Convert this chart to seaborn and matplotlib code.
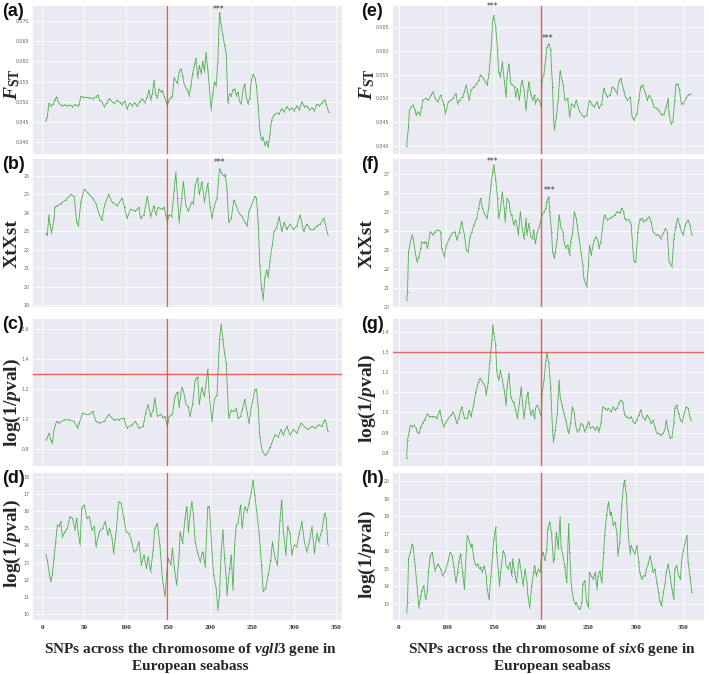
import numpy as np
import pandas as pd
import matplotlib
matplotlib.use('Agg')
import matplotlib.pyplot as plt
import seaborn as sns

# ── DATOS ────────────────────────────────────────────────────────────────────
# vgll3 — FST
a_snp = [4,6,8,10,13,15,17,19,21,24, 27,30,33,36,39,42,44,46,48,52,
         56,60,64,66,68,71,74,77,80,83, 86,89,92,95,98,101,104,107,110,113,
         116,119,122,125,127,129,131,133,135,137, 139,141,143,145,147,149,151,153,155,157,
         159,161,163,165,167,169,171,173,175,177, 179,181,183,185,187,189,191,193,195,197,
         199,201,203,205,207,209,211,213,215,217, 219,221,223,225,227,229,231,233,235,237,
         239,241,243,245,247,249,251,253,255,257, 259,261,263,265,267,269,271,273,276,279,
         282,285,288,291,294,297,300,303,306,309, 312,315,318,321,324,327,330,333,336,338,
         341]
a_val = [0.0453,0.0462,0.0497,0.0490,0.0494,0.0505,0.0512,0.0500,0.0494,0.0490,
         0.0493,0.0489,0.0492,0.0488,0.0493,0.0490,0.0494,0.0514,0.0512,0.0511,
         0.0510,0.0508,0.0512,0.0517,0.0505,0.0500,0.0488,0.0498,0.0508,0.0500,
         0.0496,0.0504,0.0499,0.0493,0.0502,0.0482,0.0497,0.0490,0.0498,0.0489,
         0.0500,0.0508,0.0498,0.0512,0.0530,0.0505,0.0520,0.0553,0.0518,0.0510,
         0.0532,0.0525,0.0528,0.0515,0.0502,0.0490,0.0505,0.0510,0.0515,0.0560,
         0.0552,0.0545,0.0575,0.0582,0.0565,0.0543,0.0535,0.0528,0.0515,0.0540,
         0.0570,0.0590,0.0608,0.0560,0.0590,0.0570,0.0600,0.0575,0.0622,0.0580,
         0.0535,0.0480,0.0520,0.0550,0.0540,0.0600,0.0721,0.0690,0.0665,0.0640,
         0.0620,0.0497,0.0520,0.0515,0.0530,0.0532,0.0515,0.0525,0.0500,0.0495,
         0.0530,0.0545,0.0510,0.0495,0.0510,0.0555,0.0568,0.0560,0.0540,0.0490,
         0.0430,0.0405,0.0412,0.0392,0.0402,0.0388,0.0420,0.0455,0.0468,0.0472,
         0.0470,0.0483,0.0475,0.0488,0.0480,0.0485,0.0478,0.0490,0.0480,0.0500,
         0.0488,0.0490,0.0480,0.0485,0.0478,0.0495,0.0490,0.0497,0.0505,0.0495,
         0.0474]

# vgll3 — XtXst
b_snp = [4,6,8,9,11,14,15,18,22,28, 34,38,41,43,46,50,54,60,64,68,
         71,74,79,83,89,95,98,101,105,111, 115,117,121,125,129,133,135,138,142,145,
         147,149,151,154,157,159,161,163,166,168, 171,174,178,180,182,185,187,190,193,197,
         200,202,205,208,211,213,216,218,220,222, 225,228,231,234,238,241,244,246,249,253,
         255,257,259,261,263,265,267,269,271,274, 276,279,282,285,288,291,295,299,303,307,
         311,315,319,323,327,331,335,337,340]
b_val = [22.9,22.8,23.9,23.4,22.9,23.7,24.3,24.4,24.5,24.7, 25.0,24.9,23.5,23.3,24.6,25.3,25.1,24.8,24.5,23.9,
         23.6,24.4,25.0,24.6,24.4,24.8,24.3,23.7,24.2,24.1, 24.3,23.7,23.9,24.9,23.8,24.4,23.9,24.3,24.2,24.3,
         23.9,23.5,23.9,23.8,25.2,26.2,24.8,23.5,24.8,25.7, 24.4,24.1,24.6,24.5,25.5,25.9,25.0,25.7,24.6,25.6,
         24.3,23.7,24.4,24.8,26.4,26.2,26.0,26.1,25.2,23.5, 23.7,24.7,24.4,24.0,23.8,23.5,23.3,24.1,24.4,24.9,
         24.8,23.5,21.2,19.9,19.3,20.5,20.9,20.5,21.4,22.3, 23.0,23.2,23.8,23.0,23.5,23.1,23.4,23.1,23.3,23.9,
         23.0,23.4,23.1,23.1,23.3,23.4,23.7,23.4,22.8]

# vgll3 — log(1/pval) FST
c_snp = [4,6,8,10,12,14,17,20,26,32, 38,42,44,48,52,56,60,64,68,74,
         79,85,91,97,101,107,111,115,120,123, 126,129,132,134,137,141,144,146,149,151,
         155,158,161,163,166,168,171,174,176,179, 182,185,187,190,193,197,199,202,205,208,
         211,213,215,217,219,222,225,228,231,233, 236,238,241,244,246,249,253,255,257,259,
         262,265,268,271,274,277,281,284,287,291, 295,299,303,308,312,316,321,325,329,333,
         336,338,340]
c_val = [0.862,0.873,0.906,0.862,0.84,0.93,0.984,0.973,0.995,0.995, 0.984,0.94,0.973,1.04,1.03,1.03,1.05,0.984,0.973,0.984,
         1.03,0.995,0.995,1.006,0.94,0.962,0.984,0.94,0.95,1.04, 1.095,1.017,1.06,1.14,1.017,1.03,1.006,1.017,0.95,1.017,
         1.03,1.15,1.18,1.08,1.21,1.19,1.1,1.08,1.017,1.1, 1.26,1.28,1.1,1.21,1.15,1.33,1.15,0.984,1.13,1.16,
         1.53,1.63,1.53,1.44,1.37,1.006,1.06,1.05,1.07,1.006, 1.017,1.06,1.13,1.04,0.973,1.08,1.195,1.2,1.08,0.88,
         0.785,0.76,0.77,0.81,0.85,0.895,0.88,0.93,0.895,0.95, 0.895,0.93,0.906,0.973,0.95,0.93,0.95,0.94,0.962,0.95,
         0.995,0.973,0.917]

# vgll3 — log(1/pval) XtXst
d_snp = [4,6,8,10,12,14,16,18,20,22, 24,27,30,33,36,39,41,43,45,47,
         50,53,56,59,62,64,68,72,75,78, 80,83,85,88,91,94,97,100,103,106,
         109,112,115,118,121,124,126,129,132,134, 137,140,143,146,148,150,153,155,157,160,
         163,164,167,170,172,174,176,178,180,182, 185,188,191,194,197,199,202,204,207,209,
         211,213,215,217,219,220,223,225,227,229, 231,233,236,238,241,244,246,249,251,253,
         255,258,261,263,266,269,272,274,277,280, 283,285,287,290,292,295,297,300,303,306,
         309,312,315,318,321,324,327,329,333,336, 338,340]
d_val = [13.45,13.16,12.48,11.9,12.29,13.26,14.22,15.19,15.1,15.39, 14.5,14.8,15.0,15.68,15.58,14.9,15.58,14.7,14.03,16.16,
         16.36,15.58,15.68,14.9,15.1,13.93,14.8,15.0,15.39,14.61, 15.0,14.42,13.55,14.8,16.55,16.45,15.58,14.8,14.7,14.32,
         13.64,13.74,14.22,12.87,13.45,12.67,13.35,12.48,13.74,15.0, 15.29,14.03,12.09,11.03,12.29,13.26,12.87,13.84,12.77,11.7,
         13.45,14.8,14.13,15.58,16.26,14.8,15.78,16.55,15.78,14.22, 13.55,13.06,13.64,12.77,16.26,16.26,13.64,12.29,11.51,10.25,
         11.12,13.64,14.9,13.26,12.09,11.12,12.67,13.45,11.41,14.03, 15.19,15.29,16.36,15.0,16.26,15.97,16.45,17.13,17.81,16.94,
         16.07,14.8,12.87,11.32,11.51,12.29,13.16,14.22,13.26,12.87, 15.48,16.65,14.8,13.45,15.1,14.7,13.45,14.03,13.93,14.7,
         15.39,14.22,13.64,14.22,15.1,13.55,14.7,14.22,14.9,15.87, 15.58,14.03]

# six6 — FST
e_snp = [58,60,61,63,65,67,68,70,72,74, 75,78,81,84,86,88,91,94,97,99,
         102,105,107,110,112,114,117,119,121,124, 126,129,132,134,136,139,141,143,145,147,
         149,150,152,154,155,157,159,161,163,164, 166,168,170,172,173,175,177,179,180,182,
         184,186,187,189,191,193,194,196,198,200, 201,203,205,206,208,210,212,213,214,216,
         218,220,222,223,225,228,230,232,235,237, 240,243,245,248,251,253,256,259,261,264,
         266,268,270,273,275,277,280,282,284,287, 289,291,294,296,298,301,303,305,307,310,
         312,314,317,319,322,324,327,330,332,334, 335,337,339,341,342,344,346,348,350,353,
         355,358]
e_val = [0.0399,0.0440,0.0475,0.0482,0.0486,0.0475,0.0465,0.0472,0.0465,0.0482,
         0.0496,0.0500,0.0496,0.0507,0.0514,0.0500,0.0493,0.0507,0.0489,0.0468,
         0.0493,0.0496,0.0500,0.0510,0.0489,0.0496,0.0503,0.0514,0.0528,0.0496,
         0.0517,0.0524,0.0531,0.0538,0.0549,0.0542,0.0535,0.0528,0.0552,0.0601,
         0.0667,0.0674,0.0650,0.0601,0.0556,0.0545,0.0577,0.0538,0.0503,0.0545,
         0.0573,0.0531,0.0528,0.0524,0.0503,0.0521,0.0496,0.0531,0.0538,0.0517,
         0.0475,0.0517,0.0535,0.0510,0.0496,0.0507,0.0489,0.0500,0.0496,0.0482,
         0.0538,0.0552,0.0587,0.0608,0.0615,0.0601,0.0524,0.0461,0.0434,0.0461,
         0.0496,0.0559,0.0538,0.0531,0.0496,0.0500,0.0461,0.0489,0.0482,0.0496,
         0.0475,0.0465,0.0461,0.0465,0.0496,0.0489,0.0482,0.0493,0.0479,0.0489,
         0.0521,0.0510,0.0503,0.0507,0.0524,0.0521,0.0510,0.0535,0.0542,0.0517,
         0.0503,0.0496,0.0503,0.0461,0.0454,0.0468,0.0496,0.0524,0.0528,0.0510,
         0.0496,0.0507,0.0496,0.0482,0.0479,0.0475,0.0465,0.0468,0.0482,0.0500,
         0.0468,0.0447,0.0451,0.0496,0.0528,0.0531,0.0517,0.0489,0.0489,0.0500,
         0.0507,0.0509]

# six6 — XtXst
f_snp = [58,59,60,62,64,65,67,69,71,73, 74,76,78,80,81,83,86,88,91,94,
         95,98,100,103,106,109,111,114,116,119, 121,123,125,127,129,132,134,136,138,140,
         143,145,147,149,150,152,154,155,157,159, 161,162,164,166,168,169,171,173,175,176,
         178,180,182,184,185,187,189,191,192,194, 196,198,199,201,203,205,206,208,209,211,
         212,214,215,217,219,221,223,224,226,228, 230,231,233,235,237,238,240,242,244,245,
         248,250,251,253,254,256,258,260,261,263, 266,267,270,273,275,278,280,283,285,287,
         288,290,293,295,297,298,300,302,304,306, 308,311,314,316,318,321,324,326,329,331,
         333,335,337,338,340,342,344,346,348,350, 352,355,357,359]
f_val = [20.35,20.8,22.9,23.44,23.8,23.6,22.9,22.38,22.65,23.09, 23.44,23.35,23.44,23.09,23.35,23.97,23.8,23.97,24.06,23.97,
         23.09,22.65,23.26,23.6,23.88,23.97,23.53,23.97,24.5,23.8, 23.0,22.9,23.7,23.97,24.32,24.67,25.2,25.73,25.2,24.94,
         24.67,25.38,26.44,27.14,27.5,26.7,25.73,24.67,25.11,26.08, 25.2,24.5,25.73,25.56,24.85,24.85,24.32,24.59,24.14,23.8,
         25.03,24.14,23.6,24.67,23.8,24.4,23.7,23.6,24.06,23.35, 23.97,24.23,24.4,24.85,25.03,25.2,25.56,25.82,25.03,23.97,
         22.9,22.56,22.9,23.6,24.85,24.14,23.97,23.44,23.09,23.26, 22.73,23.44,23.8,25.03,24.67,24.32,23.6,22.9,22.2,21.5,
         21.06,22.2,23.26,22.73,23.09,23.53,23.7,23.44,23.09,23.44, 24.67,24.85,24.59,24.67,24.76,24.85,25.03,24.94,25.2,25.03,
         24.67,24.59,24.59,24.32,22.9,22.38,22.38,23.97,24.59,24.67, 24.5,24.59,24.76,24.5,23.97,23.8,23.8,23.6,23.88,24.14,
         23.97,22.38,22.2,22.12,23.6,24.23,24.67,24.32,23.97,23.8, 24.32,24.59,24.32,23.8]

# six6 — log(1/pval) FST
g_snp = [58,59,61,62,64,66,68,69,71,73, 75,77,80,82,85,88,90,93,95,97,
         100,102,105,107,109,111,113,116,118,119, 122,124,126,129,131,134,135,137,139,141,
         142,144,146,148,149,150,152,153,155,156, 157,159,161,163,164,166,168,170,171,173,
         175,177,179,180,182,184,186,187,189,191, 193,194,196,198,200,201,203,205,206,208,
         210,212,213,215,217,219,220,222,224,226, 228,229,231,233,235,236,238,240,242,244,
         246,248,250,252,255,257,259,261,263,265, 267,269,271,274,276,278,280,282,284,286,
         288,290,293,295,297,299,301,303,305,307, 310,312,314,316,318,320,322,324,326,329,
         331,332,334,336,338,340,341,343,345,347, 349,351,353,355,357,358]
g_val = [0.772,0.863,0.912,0.937,0.929,0.937,0.921,0.904,0.896,0.929, 0.945,0.962,0.995,0.979,0.979,0.979,0.970,1.012,0.962,0.929,
         0.954,0.970,0.987,1.003,0.979,0.945,0.970,1.028,0.995,0.970, 0.970,1.012,0.979,1.045,1.102,1.152,1.169,1.160,1.144,1.127,
         1.086,1.144,1.260,1.359,1.433,1.392,1.334,1.210,1.160,1.177, 1.210,1.160,1.111,1.036,1.127,1.193,1.078,1.053,1.053,1.012,
         0.970,1.045,1.127,1.061,0.970,1.053,1.102,1.045,0.987,1.012, 0.970,1.020,1.036,1.012,0.979,1.094,1.160,1.260,1.293,1.251,
         1.127,0.912,0.855,0.912,0.995,1.160,1.078,1.036,0.995,0.962, 0.912,0.896,0.945,1.028,0.995,0.945,0.904,0.912,0.945,0.937,
         0.904,0.929,0.954,0.921,0.929,0.912,0.929,0.904,0.945,1.028, 1.020,1.012,1.020,1.003,1.028,1.012,1.020,1.045,1.061,1.053,
         0.987,0.979,0.970,0.979,0.954,0.945,0.962,0.987,1.012,0.979, 0.962,0.987,0.970,0.945,0.962,0.929,0.896,0.896,0.888,0.896,
         0.921,0.962,0.912,0.871,0.879,0.945,1.020,1.036,0.995,0.962, 0.954,0.995,1.028,1.020,0.979,0.962]

# six6 — log(1/pval) XtXst
h_snp = [58,59,60,62,64,65,67,69,71,73, 74,76,78,80,81,83,85,87,88,91,
         94,96,99,102,104,106,108,110,112,113, 115,117,119,120,122,124,126,127,129,131,
         133,135,136,138,140,142,143,145,147,149, 150,152,153,155,156,158,160,162,163,165,
         167,169,170,172,174,176,177,179,181,183, 185,186,188,190,192,193,195,197,199,200,
         202,204,206,207,209,211,213,214,216,218, 220,221,223,225,227,229,230,232,234,236,
         237,239,241,243,244,246,248,250,251,253, 255,257,259,260,262,264,266,267,269,271,
         273,274,276,278,280,281,283,285,287,288, 290,292,294,295,297,299,301,303,304,306,
         308,310,311,313,315,317,318,320,322,324, 325,327,329,331,332,334,336,338,340,341,
         343,345,347,348,350,352,354,355,357,359]
h_val = [12.48,13.06,15.55,15.94,16.42,16.22,15.17,14.02,12.77,13.44, 13.73,14.02,13.25,13.73,14.79,15.74,15.94,15.26,14.88,15.26,
         14.98,14.59,14.88,15.46,15.94,15.74,15.07,14.21,14.79,15.36, 15.84,14.79,13.83,14.98,16.90,16.61,16.22,16.42,15.55,15.17,
         15.26,14.98,15.07,14.79,15.17,14.59,13.83,13.25,14.59,15.94, 16.61,17.38,15.94,14.79,14.02,15.17,16.03,15.74,15.17,14.98,
         15.36,14.59,15.55,14.79,14.21,15.17,15.55,14.79,14.02,14.98, 14.21,13.44,12.77,14.02,14.79,15.17,14.59,14.98,14.79,15.55,
         15.94,15.46,16.13,17.28,17.66,16.99,15.36,15.55,17.09,16.13, 17.95,16.22,15.74,15.07,14.21,17.57,15.94,13.92,13.25,12.96,
         13.06,12.77,12.67,13.06,14.11,14.31,13.06,12.77,14.79,14.59, 14.40,14.79,13.83,14.59,14.88,14.21,15.94,16.90,18.05,18.82,
         18.05,18.24,17.47,17.66,16.99,15.74,16.51,18.62,19.78,20.06, 19.20,16.90,15.84,16.32,16.03,15.84,16.32,15.36,14.79,14.40,
         14.59,14.59,14.98,15.26,15.74,15.17,14.79,14.98,14.21,13.63, 13.15,12.87,13.63,14.21,14.79,15.26,14.59,13.83,13.25,14.98,
         15.17,14.59,14.40,15.36,16.03,16.51,16.90,15.36,14.59,13.63]

# ejes
left_xticks = [0, 50, 100, 150, 200, 250, 300, 350]
left_xlabels = ['0', '50', '100', '150', '200', '250', '300', '350']
right_xticks = [50, 100, 150, 200, 250, 300, 350]
right_xlabels = ['0', '100', '150', '200', '250', '300', '350']
vgll3_line = 148
six6_line = 200
pval_cut = 1.3

# ── ESTILO ───────────────────────────────────────────────────────────────────
sns.set_theme(style='darkgrid')
plt.rcParams['font.family'] = ['DejaVu Sans']
plt.rcParams['mathtext.fontset'] = 'custom'
plt.rcParams['mathtext.rm'] = 'Liberation Serif:bold'
plt.rcParams['mathtext.it'] = 'Liberation Serif:italic:bold'
plt.rcParams['mathtext.bf'] = 'Liberation Serif:bold'

VERDE = '#3fa83f'
ROJO = '#e8413c'
W, H = 709, 674
fig = plt.figure(figsize=(W / 100, H / 100), dpi=100)
fig.patch.set_facecolor('white')

LOG_LBL = 'log(1/$\\mathit{p}$val)'
FST_LBL = '$\\mathit{F}_{\\mathrm{ST}}$'

paneles = [
    # letra, columna, fila(y0,y1), snp, val, ylim, yticks, fmt, ylabel, centro etiqueta, hline, estrellas
    ('(a)', 'L', (5, 155), a_snp, a_val, (0.0368, 0.0740), np.arange(0.040, 0.0701, 0.005), '{:.3f}',
     FST_LBL, 84, None, [(210, 0.0729)]),
    ('(b)', 'L', (158, 308), b_snp, b_val, (18.84, 26.98), range(19, 27), '{:.0f}',
     'XtXst', 244, None, [(211, 26.75)]),
    ('(c)', 'L', (318, 467), c_snp, c_val, (0.68, 1.673), [0.8, 1.0, 1.2, 1.4, 1.6], '{:.1f}',
     LOG_LBL, 403, pval_cut, []),
    ('(d)', 'L', (472, 621), d_snp, d_val, (9.6, 18.27), range(10, 19), '{:.0f}',
     LOG_LBL, 544, None, []),
    ('(e)', 'R', (5, 155), e_snp, e_val, (0.0381, 0.0696), np.arange(0.040, 0.0651, 0.005), '{:.3f}',
     FST_LBL, 84, None, [(149, 0.0692), (207, 0.0625)]),
    ('(f)', 'R', (158, 308), f_snp, f_val, (19.93, 27.86), range(20, 28), '{:.0f}',
     'XtXst', 244, None, [(149, 27.65), (209, 26.13)]),
    ('(g)', 'R', (318, 467), g_snp, g_val, (0.729, 1.468), [0.8, 0.9, 1.0, 1.1, 1.2, 1.3, 1.4], '{:.1f}',
     LOG_LBL, 399, pval_cut, []),
    ('(h)', 'R', (472, 621), h_snp, h_val, (12.0, 20.52), range(13, 21), '{:.0f}',
     LOG_LBL, 555, None, []),
]

for letra, col, (y0, y1), snp, val, ylim, yticks, fmt, ylab, lbl_y, hline, stars in paneles:
    if col == 'L':
        x0, x1, xlim, xt, xtl, vline, lbl_x, let_x = 32, 343, (-12.2, 358), left_xticks, left_xlabels, vgll3_line, 12, 2
    else:
        x0, x1, xlim, xt, xtl, vline, lbl_x, let_x = 392, 705, (42.6, 372.9), right_xticks, right_xlabels, six6_line, 367, 361
    ax = fig.add_axes([x0 / W, 1 - y1 / H, (x1 - x0) / W, (y1 - y0) / H])
    n = min(len(snp), len(val))
    df = pd.DataFrame({'snp': snp[:n], 'val': val[:n]})
    sns.lineplot(data=df, x='snp', y='val', ax=ax, color=VERDE, lw=0.6, estimator=None,
                 marker='.', markersize=1.5, markeredgewidth=0, alpha=0.9)
    ax.axvline(vline, color=ROJO, lw=1.0, alpha=0.85)
    if hline is not None:
        ax.axhline(hline, color=ROJO, lw=1.0, alpha=0.8)
    for sx, sy in stars:
        ax.text(sx, sy, '***', ha='center', va='center', fontsize=5.5, color='#333333')
    ax.set_xlim(*xlim)
    ax.set_ylim(*ylim)
    ax.set_xticks(xt)
    ax.set_yticks(list(yticks))
    ax.set_yticklabels([fmt.format(v) for v in yticks], fontsize=3.4, color='#666666')
    ax.grid(color='white', lw=0.6)
    ax.tick_params(axis='y', pad=2, length=0)
    ax.set_xlabel('')
    ax.set_ylabel('')
    if y0 == 472:
        ax.set_xticklabels(xtl, fontsize=5.2, fontfamily='Liberation Serif',
                           fontweight='bold', color='#333333')
        ax.tick_params(axis='x', pad=3, length=0)
    else:
        ax.tick_params(axis='x', labelbottom=False, length=0)
    fig.text(lbl_x / W, 1 - lbl_y / H, ylab, rotation=90, ha='center', va='center',
             fontsize=14, fontfamily='Liberation Serif', fontweight='bold')
    fig.text(let_x / W, 1 - (y0 - 2) / H, letra, ha='left', va='top', fontsize=13,
             fontfamily='Liberation Sans', fontweight='bold', color='#111111')

xlab_kw = dict(ha='center', va='center', fontsize=11, fontfamily='Liberation Serif',
               fontweight='bold', linespacing=1.2)
fig.text(190 / W, 1 - 657 / H, 'SNPs across the chromosome of $\\mathit{vgll3}$ gene in\nEuropean seabass', **xlab_kw)
fig.text(552 / W, 1 - 657 / H, 'SNPs across the chromosome of $\\mathit{six6}$ gene in\nEuropean seabass', **xlab_kw)

fig.savefig('out.png', dpi=100, facecolor='white')
